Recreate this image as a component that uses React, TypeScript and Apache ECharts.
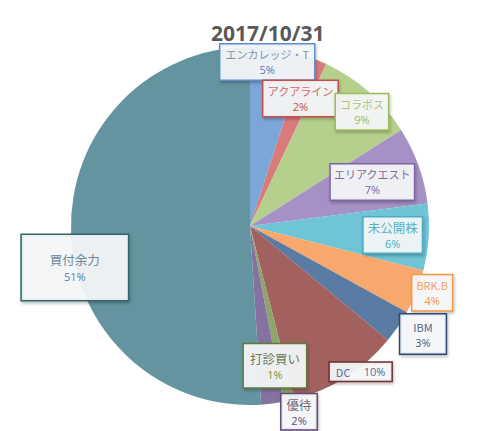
import { useEffect, useRef } from "react"
import * as echarts from "echarts"

const title = "2017/10/31"
const names = ["エンカレッジ・T", "アクアライン", "コラボス", "エリアクエスト", "未公開株", "BRK.B", "IBM", "DC", "打診買い", "優待", "買付余力"]
const values = [5, 2, 9, 7, 6, 4, 3, 10, 1, 2, 51]

const colors = ["#7ba6d8", "#d97b7b", "#b5d08c", "#a691c6", "#6fc4d6", "#f9a86d", "#5a7ba3", "#a2615f", "#8ea46b", "#8472a0", "#64949f"]
const borderColors = ["#5b8fd0", "#c0504d", "#9bbb59", "#8064a2", "#4bacc6", "#f79646", "#2c4a72", "#6b2f2f", "#5f7a3a", "#5f497a", "#31656f"]
const nameColors = ["#7f96b0", "#d06a6a", "#a8c878", "#7f6a9c", "#5ab0c4", "#f5a060", "#4a6890", "#4f6e9a", "#6b7a5a", "#6b6b7b", "#6d8796"]
const pctColors = ["#4f7cb0", "#c0504d", "#9bbb59", "#8064a2", "#4bacc6", "#f79646", "#3f5f88", "#4f6e9a", "#76923c", "#5f497a", "#4f7fb5"]

// where each callout sits: distance from the centre, and a nudge (deg) off the slice middle
const labelRadius = [165, 137, 160, 130, 143, 194, 204, 183, 142, 192, 180]
const labelNudge = [-3, 0, 3, 0, 0, -1.5, -2.2, -4.8, 2.5, -7.6, -11.5]
const labelPadding = [[2, 5], [2, 4], [2, 4], [2, 3], [1, 4], [2, 4], [4, 13], [1, 6], [5, 6], [1, 5], [16, 28]]
const nameSizes = [11, 11, 11, 11, 12.5, 11, 11, 11, 12.5, 12.5, 12.5]

const CX = 250
const CY = 226
const R = 179

export default function App() {
  const chartRef = useRef<HTMLDivElement>(null)

  useEffect(() => {
    if (!chartRef.current) return
    const chart = echarts.init(chartRef.current, null, { renderer: "svg" })

    const total = values.reduce((a, b) => a + b, 0)
    let cum = 0
    const mids = values.map(v => {
      const m = ((cum + v / 2) / total) * 360
      cum += v
      return m
    })

    const option = {
      animation: false,
      title: {
        text: title,
        left: 206,
        top: 17,
        textStyle: {
          fontSize: 21,
          fontWeight: "bold",
          color: "#595959",
          fontFamily: "Open Sans"
        }
      },
      series: [
        {
          type: "pie",
          center: [CX, CY],
          radius: R,
          startAngle: 90,
          clockwise: true,
          percentPrecision: 0,
          avoidLabelOverlap: false,
          labelLine: { show: false },
          emphasis: { disabled: true },
          label: {
            show: true,
            position: "outside",
            align: "center",
            backgroundColor: "rgba(245,247,249,0.93)",
            borderWidth: 1.5,
            shadowBlur: 3,
            shadowColor: "rgba(0,0,0,0.25)",
            shadowOffsetX: 1,
            shadowOffsetY: 2,
            formatter: (p: any) =>
              p.dataIndex === 7
                ? `{n|${p.name}}    {p|${p.percent}%}`
                : `{n|${p.name}}\n{p|${p.percent}%}`
          },
          labelLayout: (p: any) => {
            const i = p.dataIndex
            const a = ((mids[i] + labelNudge[i]) * Math.PI) / 180
            return {
              x: CX + labelRadius[i] * Math.sin(a),
              y: CY - labelRadius[i] * Math.cos(a),
              align: "center",
              verticalAlign: "middle"
            }
          },
          data: names.map((name, i) => ({
            name,
            value: values[i],
            itemStyle: { color: colors[i] },
            label: {
              borderColor: borderColors[i],
              padding: labelPadding[i],
              rich: {
                n: {
                  color: nameColors[i],
                  fontSize: nameSizes[i],
                  fontFamily: "Noto Sans CJK JP",
                  lineHeight: nameSizes[i] > 12 ? 18 : 16,
                  align: "center"
                },
                p: {
                  color: pctColors[i],
                  fontSize: 11,
                  fontFamily: "Open Sans",
                  lineHeight: 15,
                  align: "center"
                }
              }
            }
          }))
        }
      ]
    }

    chart.setOption(option)

    return () => {
      chart.dispose()
    }
  }, [])

  return (
    <div
      ref={chartRef}
      style={{ position: "absolute", left: 0, top: 0, width: 480, height: 431, background: "#fff" }}
    />
  )
}
